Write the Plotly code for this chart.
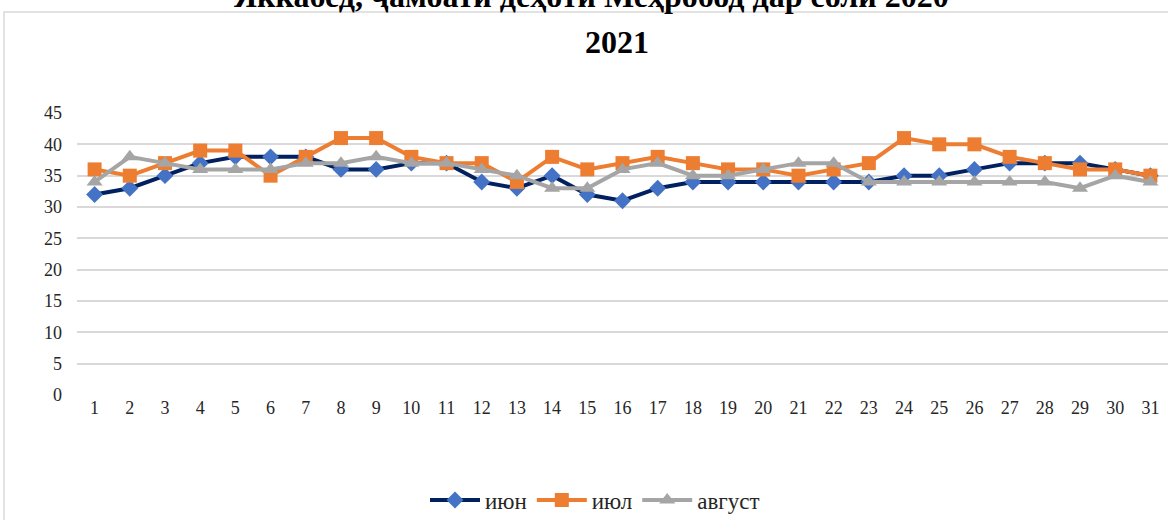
import plotly.graph_objects as go

days = [str(d) for d in range(1, 32)]
jun = [32, 33, 35, 37, 38, 38, 38, 36, 36, 37, 37, 34, 33, 35, 32, 31, 33, 34, 34, 34, 34, 34, 34, 35, 35, 36, 37, 37, 37, 36, 35]
jul = [36, 35, 37, 39, 39, 35, 38, 41, 41, 38, 37, 37, 34, 38, 36, 37, 38, 37, 36, 36, 35, 36, 37, 41, 40, 40, 38, 37, 36, 36, 35]
aug = [34, 38, 37, 36, 36, 36, 37, 37, 38, 37, 37, 36, 35, 33, 33, 36, 37, 35, 35, 36, 37, 37, 34, 34, 34, 34, 34, 34, 33, 35, 34]
y_ticks = [0, 5, 10, 15, 20, 25, 30, 35, 40, 45]

FONT = "Liberation Serif"
W, H = 1168, 520
L, R, T, B = 77, 0, 113, 125
pw, ph = W - L - R, H - T - B

def px(x):
    return (x - L) / pw

def py(y):
    return (H - B - y) / ph

fig = go.Figure()
fig.add_trace(go.Scatter(
    x=days, y=jun, name="июн", mode="lines+markers",
    line=dict(color="#002060", width=4),
    marker=dict(symbol="diamond", size=13, color="#4472C4", line=dict(color="#4472C4", width=0))))
fig.add_trace(go.Scatter(
    x=days, y=jul, name="июл", mode="lines+markers",
    line=dict(color="#ED7D31", width=4),
    marker=dict(symbol="square", size=14, color="#ED7D31")))
fig.add_trace(go.Scatter(
    x=days, y=aug, name="август", mode="lines+markers",
    line=dict(color="#A5A5A5", width=4),
    marker=dict(symbol="triangle-up", size=14, color="#A5A5A5")))

fig.update_layout(
    width=W, height=H,
    margin=dict(l=L, r=R, t=T, b=B, autoexpand=False),
    paper_bgcolor="white", plot_bgcolor="white",
    font=dict(family=FONT, size=18, color="#404040"),
    showlegend=True,
    legend=dict(orientation="h", x=px(595), xanchor="center", y=py(500), yanchor="middle",
                font=dict(family=FONT, size=23, color="#262626"), itemwidth=50,
                bgcolor="rgba(0,0,0,0)"),
    xaxis=dict(type="category", range=[-0.5, 30.5], showgrid=False, showline=False,
               ticks="", tickfont=dict(family=FONT, size=18, color="#262626"), zeroline=False),
    yaxis=dict(range=[0, 45], tickvals=y_ticks, showgrid=True, gridcolor="#D9D9D9", gridwidth=1.5,
               zeroline=False, showline=False, ticks="", ticklabelstandoff=14,
               tickfont=dict(family=FONT, size=18, color="#262626")),
)

fig.add_shape(type="rect", xref="paper", yref="paper",
              x0=px(4), x1=px(1180), y0=py(540), y1=py(12),
              line=dict(color="#D9D9D9", width=1.5), fillcolor="rgba(0,0,0,0)", layer="below")

fig.add_annotation(text="<b>2021</b>", xref="paper", yref="paper", x=px(617), y=py(42),
                   xanchor="center", yanchor="middle", showarrow=False,
                   font=dict(family=FONT, size=32, color="black"))
fig.add_annotation(text="<b>Яккабед, ҷамоати деҳоти Меҳробод дар соли 2020</b>", xref="paper", yref="paper",
                   x=px(591), y=py(-4), xanchor="center", yanchor="middle", showarrow=False,
                   font=dict(family=FONT, size=32, color="black"))

fig.write_html("out.html", config={"displayModeBar": False},
               post_script="document.body.style.margin='0';document.body.style.overflow='hidden';")
